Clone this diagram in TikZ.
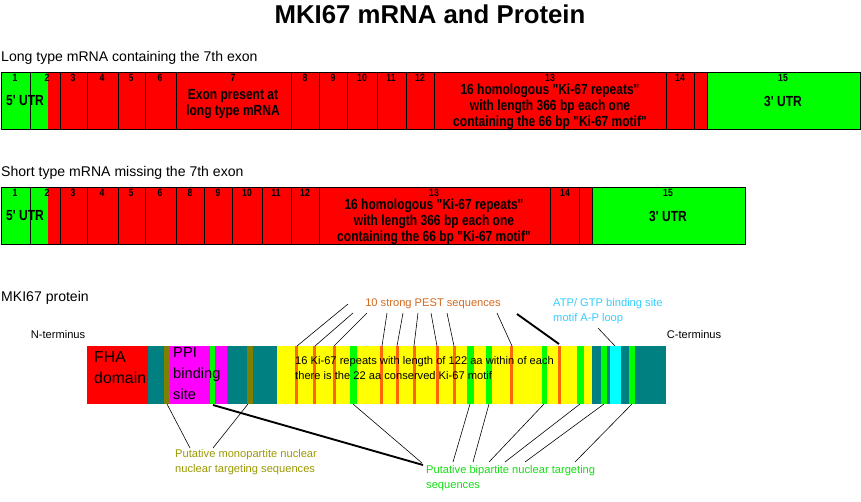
\documentclass[tikz,border=0pt]{standalone}
\usepackage{fontspec}
\setmainfont{Liberation Sans}
\newfontfamily\cond[FakeStretch=0.82]{Liberation Sans}
\definecolor{exred}{HTML}{FF0000}
\definecolor{exgreen}{HTML}{00FF00}
\definecolor{pteal}{HTML}{008080}
\definecolor{polive}{HTML}{808000}
\definecolor{pmag}{HTML}{FF00FF}
\definecolor{pyel}{HTML}{FFFF00}
\definecolor{pest}{HTML}{FF6600}
\definecolor{pcyan}{HTML}{00FFFF}
\definecolor{pesttxt}{HTML}{D2691E}
\definecolor{atptxt}{HTML}{33CCFF}
\definecolor{monotxt}{HTML}{999900}
\definecolor{bitxt}{HTML}{11DD11}
\tikzset{
  num/.style={font=\cond\bfseries\fontsize{9}{9}\selectfont, anchor=north, inner sep=1pt},
  exon/.style={font=\cond\bfseries\fontsize{12.5}{13.5}\selectfont, align=center, inner sep=0pt},
  head/.style={font=\fontsize{12}{14}\selectfont, anchor=west, inner sep=0pt},
  plab/.style={font=\fontsize{9.5}{13}\selectfont, align=left, inner sep=0pt},
  lead/.style={black, line width=0.5pt},
  thicklead/.style={black, line width=1.6pt}
}
\begin{document}
\begin{tikzpicture}[x=0.03cm, y=-0.03cm]
        \useasboundingbox (0,0) rectangle (861,502);
        \node[font=\bfseries\fontsize{22}{22}\selectfont] (title) at (430,14) {MKI67 mRNA and Protein};

        % long type mRNA
        \node[head] (longlbl) at (1,58) {Long type mRNA containing the 7th exon};
        \fill[exgreen] (1,72) rectangle (48,129);
        \fill[exred] (48,72) rectangle (707,129);
        \fill[exgreen] (707,72) rectangle (860,129);
        \foreach \a/\b/\n in {1/30/1,30/60/2,60/87/3,87/118/4,118/145/5,145/176/6,176/291/7,291/319/8,319/347/9,347/377/10,377/406/11,406/434/12,434/666/13,666/694/14,694/707/{},707/860/15}
            \draw[line width=0.8pt] (\a,72) rectangle (\b,129);
        \foreach \x/\n in {15/1,47/2,73/3,102/4,131/5,160/6,233/7,305/8,333/9,362/10,391/11,420/12,550/13,680/14,783/15}
            \node[num] (l\n) at (\x,73) {\n};
        \node[exon] (lutr5) at (25,101) {5' UTR};
        \node[exon] (lex7) at (233,104) {Exon present at\\long type mRNA};
        \node[exon] (lex13) at (550,107) {16 homologous "Ki-67 repeats"\\with length 366 bp each one\\containing the 66 bp "Ki-67 motif"};
        \node[exon] (lutr3) at (783,101) {3' UTR};

        % short type mRNA
        \node[head] (shortlbl) at (1,173) {Short type mRNA missing the 7th exon};
        \fill[exgreen] (1,187) rectangle (48,244);
        \fill[exred] (48,187) rectangle (592,244);
        \fill[exgreen] (592,187) rectangle (745,244);
        \foreach \a/\b in {1/30,30/60,60/87,87/118,118/145,145/176,176/204,204/232,232/262,262/291,291/319,319/550,550/579,579/592,592/745}
            \draw[line width=0.8pt] (\a,187) rectangle (\b,244);
        \foreach \x/\n in {15/1,47/2,73/3,102/4,131/5,160/6,190/8,218/9,247/10,276/11,305/12,434/13,565/14,668/15}
            \node[num] (s\n) at (\x,188) {\n};
        \node[exon] (sutr5) at (25,216) {5' UTR};
        \node[exon] (sex13) at (434,222) {16 homologous "Ki-67 repeats"\\with length 366 bp each one\\containing the 66 bp "Ki-67 motif"};
        \node[exon] (sutr3) at (668,216) {3' UTR};

        % protein
        \node[head] (protlbl) at (1,298) {MKI67 protein};
        \node[font=\fontsize{9.5}{10}\selectfont] (nterm) at (58,335) {N-terminus};
        \node[font=\fontsize{9.5}{10}\selectfont] (cterm) at (694,335) {C-terminus};
        \fill[exred] (87,346) rectangle (148,404);
        \fill[pteal] (148,346) rectangle (277,404);
        \fill[pmag] (170,346) rectangle (227,404);
        \fill[pyel] (277,346) rectangle (592,404);
        \fill[pteal] (592,346) rectangle (666,404);
        \fill[pcyan] (610,346) rectangle (621,404);
        \foreach \a/\b in {164/170,247/253}
            \fill[polive] (\a,346) rectangle (\b,404);
        \foreach \a/\b in {210/215,350/357,467/474,486/492,542/547,577/584,601/607,629/635}
            \fill[exgreen] (\a,346) rectangle (\b,404);
        \foreach \a in {295,313,333,380,396,413,436,453,510,558}
            \fill[pest] (\a,346) rectangle (\a+3,404);
        \node[font=\fontsize{13.5}{18}\selectfont, align=left, anchor=north west, inner sep=0pt] (fha) at (94,351) {FHA\\domain};
        \node[font=\fontsize{12.5}{18}\selectfont, align=left, anchor=north west, inner sep=0pt] (ppi) at (173,347) {PPI\\binding\\site};
        \node[plab, anchor=north west] (repeats) at (295,356) {16 Ki-67 repeats with length of 122 aa within of each\\there is the 22 aa conserved Ki-67 motif};

        % annotations
        \node[plab, text=pesttxt] (pestlbl) at (433,304) {10 strong PEST sequences};
        \node[plab, text=atptxt, anchor=north west] (atplbl) at (553,298) {ATP/ GTP binding site\\motif A-P loop};
        \node[plab, text=monotxt, anchor=north west] (monolbl) at (175,449) {Putative monopartite nuclear\\nuclear targeting sequences};
        \node[plab, text=bitxt, anchor=north west] (bilbl) at (426,465) {Putative bipartite nuclear targeting\\sequences};

        \foreach \sx/\sy/\tx in {348/304/297,353/313/315,367/313/334,387/313/382,403/313/397,418/313/414,431/313/437,447/313/454,497/313/512}
            \draw[lead] (\sx,\sy) -- (\tx,346);
        \draw[thicklead] (517,314) -- (559,344);
        \draw[lead] (598,328) -- (615,346);
        \draw[lead] (167,404) -- (190,448);
        \draw[lead] (248,404) -- (213,448);
        \draw[thicklead] (213,405) -- (423,465);
        \foreach \sx/\tx/\ty in {353/422/463,470/453/462,489/473/462,544/489/462,580/505/462,604/525/462,632/575/462}
            \draw[lead] (\sx,404) -- (\tx,\ty);
\end{tikzpicture}
\end{document}
